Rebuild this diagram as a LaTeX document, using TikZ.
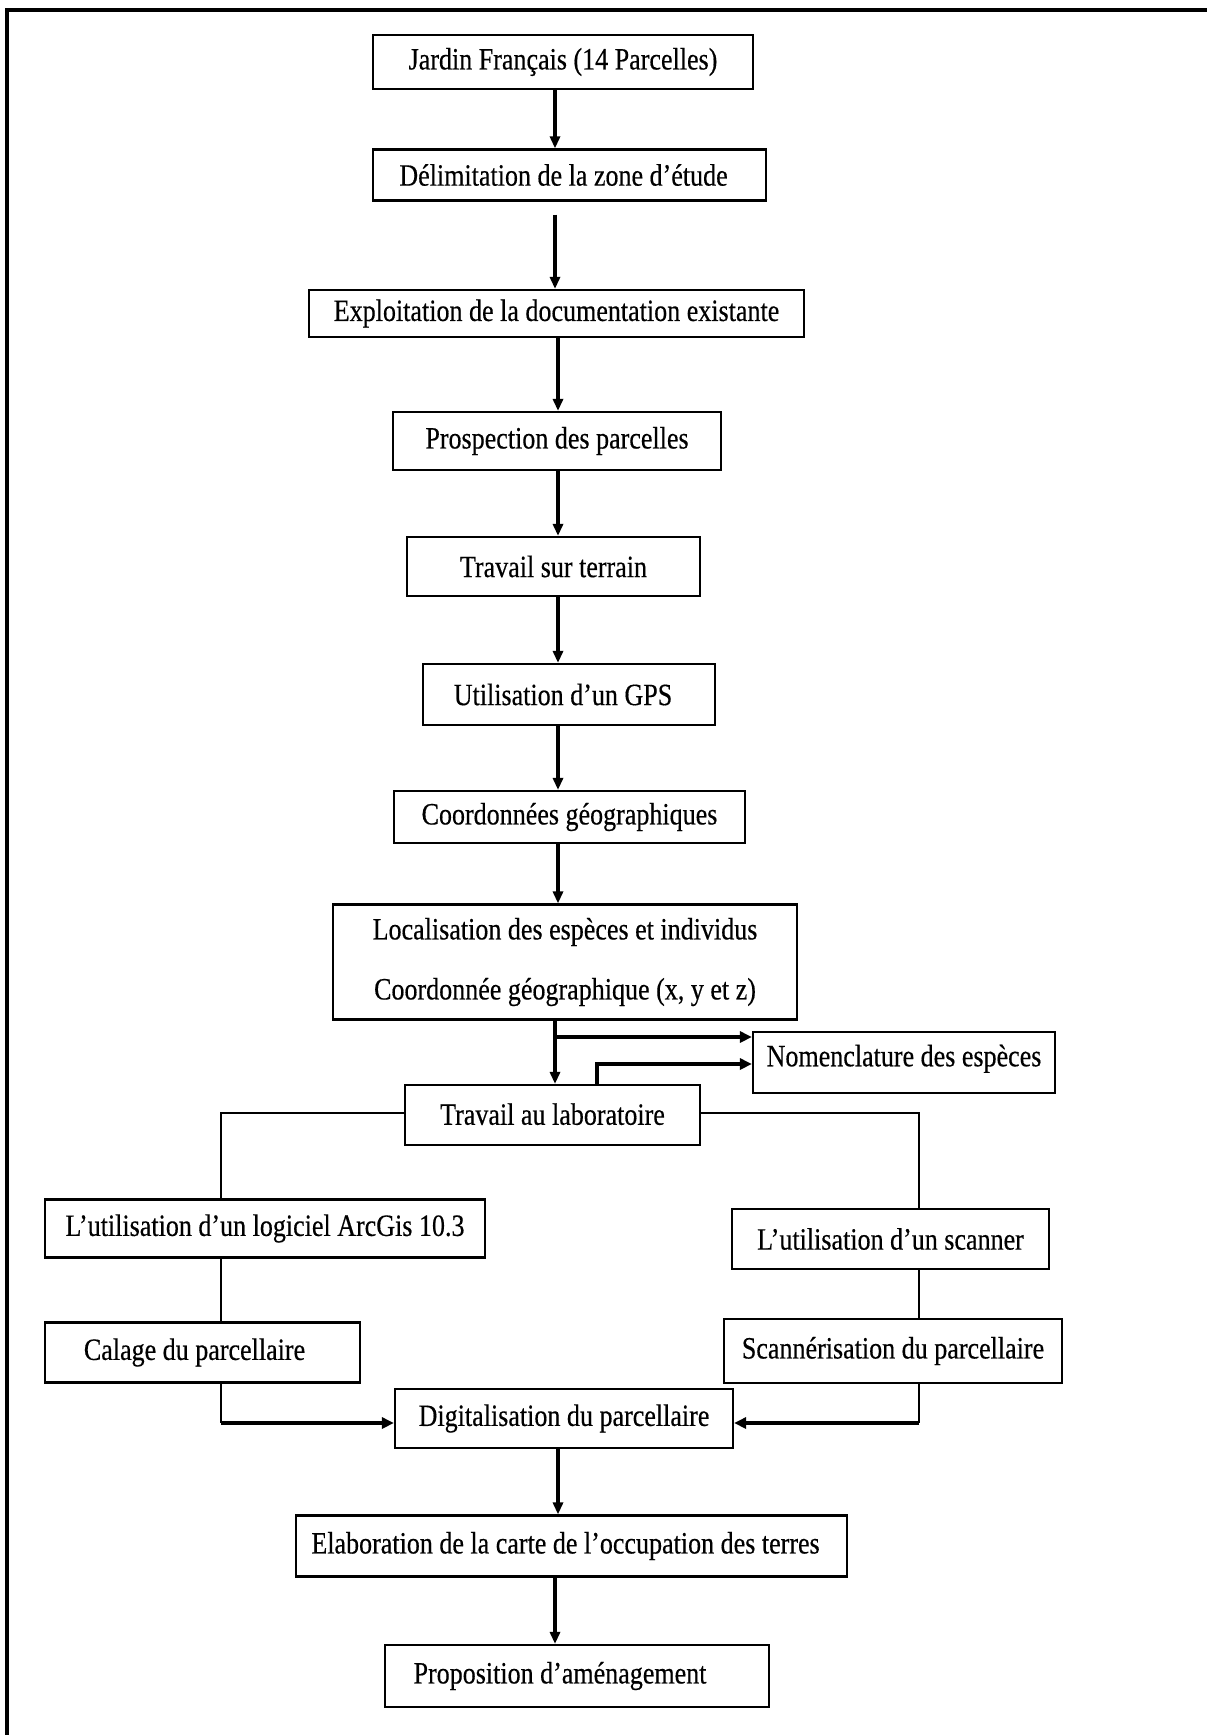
\documentclass[tikz,border=0pt]{standalone}
\usepackage{fontspec}
\setmainfont{Liberation Serif}[FakeStretch=0.84,FakeBold=0.4]
\usetikzlibrary{arrows.meta}
\tikzset{
  box/.style={draw=black, line width=1.1pt, inner sep=0pt, align=center,
    font=\fontsize{15.5}{18}\selectfont, fill=white},
  arr/.style={line width=1.6pt, -{Triangle[length=6pt,width=5pt]}},
  thickarr/.style={line width=2.2pt, -{Triangle[length=6pt,width=5.5pt]}},
  thin/.style={line width=0.8pt},
}
\begin{document}
\begin{tikzpicture}[x=0.5pt,y=-0.5pt]
\useasboundingbox (0,0) rectangle (1207,1735);
\fill[white] (0,0) rectangle (1207,1735);
% frame
\draw[line width=2pt] (7,1735) -- (7,10) -- (1207,10);
% axes for connectors
\coordinate (A) at (555,0);
\coordinate (B) at (558,0);
\coordinate (C) at (597,0);
\coordinate (L) at (221,0);
\coordinate (R) at (919,0);
\coordinate (Y1) at (0,1037);
\coordinate (Y2) at (0,1064);
\coordinate (Y3) at (0,1113);
\coordinate (Y4) at (0,1423);
% boxes
\node[box, minimum width=190pt, minimum height=27pt] (b1) at (563,62) {\raisebox{1.5pt}{Jardin Français (14 Parcelles)}};
\node[box, minimum width=196.5pt, minimum height=25.5pt] (b2) at (569.5,175) {Délimitation de la zone d’étude\hspace*{6pt}};
\node[box, minimum width=247.5pt, minimum height=23.5pt] (b3) at (556.5,313.5) {Exploitation de la documentation existante};
\node[box, minimum width=164pt, minimum height=29pt] (b4) at (557,441) {Prospection des parcelles};
\node[box, minimum width=146.5pt, minimum height=29.5pt] (b5) at (553.5,566.5) {Travail sur terrain};
\node[box, minimum width=146pt, minimum height=30.5pt] (b6) at (569,694.5) {Utilisation d’un GPS\hspace*{6pt}};
\node[box, minimum width=175.5pt, minimum height=26pt] (b7) at (569.5,817) {Coordonnées géographiques};
\node[box, minimum width=232pt, minimum height=57.5pt, font=\fontsize{15.5}{30}\selectfont] (b8) at (565,962) {\raisebox{-3pt}{Localisation des espèces et individus}\\\raisebox{-3pt}{Coordonnée géographique (x, y et z)}};
\node[box, minimum width=151pt, minimum height=30.5pt] (b9) at (904,1062.5) {\raisebox{7pt}{Nomenclature des espèces}};
\node[box, minimum width=147.5pt, minimum height=30pt] (b10) at (552.5,1115) {\raisebox{1pt}{Travail au laboratoire}};
\node[box, minimum width=220pt, minimum height=29pt] (b11) at (265,1228.5) {L’utilisation d’un logiciel ArcGis 10.3};
\node[box, minimum width=158.5pt, minimum height=30pt] (b12) at (890.5,1239) {L’utilisation d’un scanner};
\node[box, minimum width=157.5pt, minimum height=30pt] (b13) at (202.5,1352.5) {Calage du parcellaire\hspace*{8pt}};
\node[box, minimum width=169pt, minimum height=32pt] (b14) at (893,1351) {Scannérisation du parcellaire};
\node[box, minimum width=169pt, minimum height=29.5pt] (b15) at (564,1418.5) {Digitalisation du parcellaire};
\node[box, minimum width=275.5pt, minimum height=30.5pt] (b16) at (571.5,1546) {Elaboration de la carte de l’occupation des terres\hspace*{6pt}};
\node[box, minimum width=192pt, minimum height=31pt] (b17) at (577,1676) {Proposition d’aménagement\hspace*{17pt}};
% main chain
\draw[arr] (b1.south -| A) -- (b2.north -| A);
\draw[arr, shorten <=6.5pt] (b2.south -| A) -- (b3.north -| A);
\draw[arr] (b3.south -| B) -- (b4.north -| B);
\draw[arr] (b4.south -| B) -- (b5.north -| B);
\draw[arr] (b5.south -| B) -- (b6.north -| B);
\draw[arr] (b6.south -| B) -- (b7.north -| B);
\draw[arr] (b7.south -| B) -- (b8.north -| B);
\draw[arr] (b8.south -| A) -- (b10.north -| A);
% to nomenclature
\draw[thickarr] (Y1 -| A) -- (Y1 -| b9.west);
\draw[thickarr] (b10.north -| C) -- (Y2 -| C) -- (Y2 -| b9.west);
% branches
\draw[thin] (b10.west |- Y3) -- (Y3 -| L) -- (b11.north -| L);
\draw[thin] (b10.east |- Y3) -- (Y3 -| R) -- (b12.north -| R);
\draw[thin] (b11.south -| L) -- (b13.north -| L);
\draw[thin] (b12.south -| R) -- (b14.north -| R);
\draw[thin] (b13.south -| L) -- (Y4 -| L);
\draw[thin] (b14.south -| R) -- (Y4 -| R);
\draw[thickarr] (Y4 -| L) -- (b15.west |- Y4);
\draw[thickarr] (Y4 -| R) -- (b15.east |- Y4);
% bottom chain
\draw[arr] (b15.south -| B) -- (b16.north -| B);
\draw[arr] (b16.south -| A) -- (b17.north -| A);
\end{tikzpicture}
\end{document}
